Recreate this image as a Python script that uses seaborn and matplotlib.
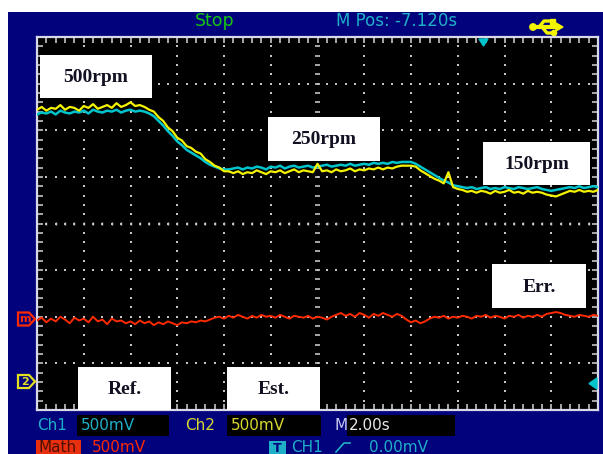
import numpy as np
import pandas as pd
import matplotlib
matplotlib.use("Agg")
import matplotlib.pyplot as plt
from matplotlib.patches import Rectangle, Polygon, Circle
import seaborn as sns

# ---- acquisition settings -------------------------------------------------
SEC_PER_DIV = 2.0      # M 2.00s
VOLT_PER_DIV = 0.5     # 500mV on Ch1, Ch2 and Math
N_HDIV, N_VDIV = 12, 8
DT = 0.2               # sample spacing in seconds

# ---- captured traces (volts, screen centre = 0 V) ---------------------------
ch1_ref = [
    1.17, 1.19, 1.18, 1.20, 1.17, 1.21, 1.19, 1.18, 1.20, 1.19,
    1.21, 1.18, 1.22, 1.20, 1.19, 1.21, 1.20, 1.22, 1.19, 1.21,
    1.22, 1.20, 1.21, 1.20, 1.18, 1.15, 1.10, 1.05, 0.99, 0.94,
    0.88, 0.84, 0.79, 0.76, 0.73, 0.70, 0.66, 0.63, 0.61, 0.59,
    0.58, 0.58, 0.59, 0.60, 0.58, 0.60, 0.59, 0.61, 0.60, 0.58,
    0.61, 0.60, 0.62, 0.59, 0.61, 0.62, 0.60, 0.61, 0.62, 0.60,
    0.61, 0.62, 0.63, 0.61, 0.62, 0.63, 0.62, 0.64, 0.62, 0.63,
    0.64, 0.63, 0.65, 0.64, 0.65, 0.64, 0.66, 0.65, 0.66, 0.66,
    0.66, 0.64, 0.61, 0.58, 0.55, 0.52, 0.49, 0.46, 0.44, 0.41,
    0.40, 0.39, 0.38, 0.39, 0.37, 0.38, 0.39, 0.37, 0.38, 0.37,
    0.39, 0.38, 0.37, 0.39, 0.38, 0.37, 0.38, 0.39, 0.37, 0.36,
    0.35, 0.36, 0.37, 0.38, 0.39, 0.38, 0.40, 0.38, 0.39, 0.40,
    0.39,
]
ch2_est = [
    1.22, 1.25, 1.21, 1.24, 1.23, 1.27, 1.22, 1.25, 1.24, 1.21,
    1.26, 1.24, 1.28, 1.23, 1.25, 1.27, 1.24, 1.29, 1.25, 1.27,
    1.30, 1.26, 1.27, 1.25, 1.22, 1.20, 1.14, 1.10, 1.03, 0.99,
    0.92, 0.89, 0.83, 0.81, 0.77, 0.75, 0.69, 0.66, 0.62, 0.60,
    0.56, 0.56, 0.54, 0.56, 0.53, 0.55, 0.54, 0.57, 0.55, 0.53,
    0.56, 0.55, 0.57, 0.54, 0.56, 0.58, 0.55, 0.57, 0.56, 0.55,
    0.64, 0.56, 0.57, 0.55, 0.58, 0.56, 0.57, 0.59, 0.56, 0.58,
    0.57, 0.59, 0.58, 0.60, 0.58, 0.60, 0.59, 0.61, 0.62, 0.62,
    0.62, 0.61, 0.57, 0.54, 0.51, 0.48, 0.46, 0.43, 0.55, 0.39,
    0.37, 0.36, 0.34, 0.35, 0.33, 0.35, 0.34, 0.32, 0.35, 0.33,
    0.34, 0.36, 0.33, 0.34, 0.32, 0.35, 0.33, 0.34, 0.33, 0.31,
    0.30, 0.29, 0.31, 0.33, 0.35, 0.34, 0.36, 0.34, 0.35, 0.34,
    0.36,
]
math_err = [
    -1.04, -1.01, -1.06, -1.02, -1.05, -1.00, -1.03, -1.07, -1.01, -1.04,
    -1.02, -1.06, -1.00, -1.05, -1.03, -1.08, -1.02, -1.05, -1.04, -1.07,
    -1.05, -1.08, -1.04, -1.07, -1.05, -1.09, -1.06, -1.08, -1.05, -1.07,
    -1.09, -1.06, -1.07, -1.05, -1.06, -1.04, -1.05, -1.03, -1.01, -1.00,
    -1.02, -0.99, -1.01, -0.98, -1.00, -1.02, -0.99, -1.01, -0.98, -1.00,
    -0.99, -1.01, -0.98, -1.00, -1.02, -0.99, -1.00, -1.01, -0.99, -1.02,
    -1.00, -1.01, -1.03, -1.00, -0.98, -0.96, -0.99, -0.97, -1.00, -0.96,
    -0.98, -1.01, -0.97, -0.99, -0.96, -0.98, -1.00, -0.97, -0.99, -1.03,
    -1.06, -1.04, -1.07, -1.05, -1.02, -1.00, -1.01, -0.99, -1.02, -1.00,
    -1.01, -0.99, -1.00, -1.02, -0.99, -1.00, -0.98, -1.01, -0.99, -1.00,
    -1.02, -0.99, -1.00, -0.98, -1.01, -0.99, -1.00, -0.98, -1.00, -0.97,
    -0.96, -0.95, -0.96, -0.98, -0.99, -1.00, -0.98, -0.99, -1.00, -0.98,
    -0.99,
]

speed_labels = ["500rpm", "250rpm", "150rpm"]
trace_labels = ["Ref.", "Est.", "Err."]

t = np.arange(len(ch2_est)) * DT
df = pd.DataFrame({"t": t, "ref": ch1_ref, "est": ch2_est, "err": math_err})

# ---- colours ----------------------------------------------------------------
NAVY = "#02027c"
CYAN = "#00c4cc"
YELLOW = "#f4f400"
RED = "#ff2a00"
GRID = "#c4c4c4"
TXT_CYAN = "#1fb0c8"
TXT_YEL = "#d8d830"

W, H = 603, 454
fig = plt.figure(figsize=(W / 100, H / 100), dpi=100)
fig.patch.set_facecolor("white")


def pixel_axes(z):
    a = fig.add_axes([0, 0, 1, 1], zorder=z)
    a.set_xlim(0, W)
    a.set_ylim(H, 0)
    a.axis("off")
    a.patch.set_alpha(0)
    return a


# ---- instrument body ---------------------------------------------------------
bg = pixel_axes(0)
bg.add_patch(Rectangle((8, 12), W - 8, H - 12, facecolor=NAVY, edgecolor="none"))

scope_font = "DejaVu Sans"
bg.text(195, 21, "Stop", color="#14c414", fontsize=12.5, family=scope_font, va="center")
bg.text(336, 21, "M Pos: -7.120s", color=TXT_CYAN, fontsize=12, family=scope_font, va="center")

# USB symbol
ux, uy = 546, 27
bg.plot([ux - 13, ux + 11], [uy, uy], color=YELLOW, lw=3, solid_capstyle="butt")
bg.add_patch(Polygon([[ux + 10, uy - 4], [ux + 17, uy], [ux + 10, uy + 4]], color=YELLOW))
bg.add_patch(Circle((ux - 13, uy), 3.2, color=YELLOW))
bg.plot([ux - 7, ux - 2, ux + 5], [uy, uy - 6, uy - 6], color=YELLOW, lw=2.4)
bg.add_patch(Rectangle((ux + 4, uy - 8.5), 4.5, 5, color=YELLOW))
bg.plot([ux - 4, ux + 1, ux + 7], [uy, uy + 6, uy + 6], color=YELLOW, lw=2.4)
bg.add_patch(Circle((ux + 8, uy + 6), 2.6, color=YELLOW))

# status line 1
fs = 11
bg.text(37, 426, "Ch1", color=TXT_CYAN, fontsize=fs, family=scope_font, va="center")
bg.add_patch(Rectangle((77, 415), 92, 21, facecolor="black", edgecolor="none"))
bg.text(81, 426, "500mV", color=TXT_CYAN, fontsize=fs, family=scope_font, va="center")
bg.text(185, 426, "Ch2", color=TXT_YEL, fontsize=fs, family=scope_font, va="center")
bg.add_patch(Rectangle((227, 415), 94, 21, facecolor="black", edgecolor="none"))
bg.text(231, 426, "500mV", color=TXT_YEL, fontsize=fs, family=scope_font, va="center")
bg.text(335, 426, "M", color="#c8c8f0", fontsize=fs, family=scope_font, va="center")
bg.add_patch(Rectangle((347, 415), 108, 21, facecolor="black", edgecolor="none"))
bg.text(349, 426, "2.00s", color="#e8e8e8", fontsize=fs, family=scope_font, va="center")

# status line 2 (partly below the bottom edge)
bg.add_patch(Rectangle((36, 440), 45, 16, facecolor="#e83010", edgecolor="none"))
bg.text(38, 448, "Math", color="#501000", fontsize=fs, family=scope_font, va="center")
bg.text(92, 448, "500mV", color=RED, fontsize=fs, family=scope_font, va="center")
bg.add_patch(Rectangle((269, 441), 17, 15, facecolor=TXT_CYAN, edgecolor="none"))
bg.text(277.5, 448, "T", color=NAVY, fontsize=9, family=scope_font, va="center",
        ha="center", weight="bold")
bg.text(291, 448, "CH1", color=TXT_CYAN, fontsize=fs, family=scope_font, va="center")
bg.plot([336, 344, 350], [452, 443, 443], color=TXT_CYAN, lw=1.2)
bg.text(369, 448, "0.00mV", color=TXT_CYAN, fontsize=fs, family=scope_font, va="center")

# ---- screen -----------------------------------------------------------------
L, T_, R, B = 37, 37, 598, 410
ax = fig.add_axes([L / W, 1 - B / H, (R - L) / W, (B - T_) / H], zorder=1)
ax.set_facecolor("black")
t_span = N_HDIV * SEC_PER_DIV
v_half = N_VDIV / 2 * VOLT_PER_DIV
ax.set_xlim(0, t_span)
ax.set_ylim(-v_half, v_half)

minor_t = SEC_PER_DIV / 5
minor_v = VOLT_PER_DIV / 5
ax.set_xticks(np.arange(0, t_span + 1e-9, SEC_PER_DIV))
ax.set_xticks(np.arange(0, t_span + 1e-9, minor_t), minor=True)
ax.set_yticks(np.arange(-v_half, v_half + 1e-9, VOLT_PER_DIV))
ax.set_yticks(np.arange(-v_half, v_half + 1e-9, minor_v), minor=True)
ax.tick_params(which="both", direction="in", top=True, right=True, length=4.5,
               width=1.2, color=GRID, labelbottom=False, labelleft=False)
for s in ax.spines.values():
    s.set_color("#d8d8e8")
    s.set_linewidth(1.6)

# dotted graticule
gx = np.arange(SEC_PER_DIV, t_span - 1e-9, SEC_PER_DIV)
gy = np.arange(-v_half + VOLT_PER_DIV, v_half - 1e-9, VOLT_PER_DIV)
dy = np.arange(-v_half + minor_v, v_half - 1e-9, minor_v)
dx = np.arange(minor_t, t_span - 1e-9, minor_t)
X1, Y1 = np.meshgrid(gx[~np.isclose(gx, t_span / 2)], dy)
X2, Y2 = np.meshgrid(dx, gy)
ax.scatter(X1.ravel(), Y1.ravel(), s=2.2, c=GRID, marker="s", linewidths=0, zorder=1)
ax.scatter(X2.ravel(), Y2.ravel(), s=2.2, c=GRID, marker="s", linewidths=0, zorder=1)

# centre vertical line drawn as short dashes
ax.hlines(dy, t_span / 2 - 0.10, t_span / 2 + 0.10, color=GRID, lw=1.2, zorder=1)
# centre horizontal line: small ticks on top of the dots
ax.vlines(dx, -0.018, 0.018, color=GRID, lw=1.0, zorder=1)

# traces
sns.lineplot(data=df, x="t", y="err", ax=ax, color=RED, lw=1.4, estimator=None, zorder=3)
sns.lineplot(data=df, x="t", y="ref", ax=ax, color=CYAN, lw=1.8, estimator=None, zorder=4)
sns.lineplot(data=df, x="t", y="est", ax=ax, color=YELLOW, lw=1.6, estimator=None, zorder=5)
ax.set_xlabel("")
ax.set_ylabel("")

# ---- overlays: channel markers and annotation boxes -------------------------
ov = pixel_axes(3)


def channel_marker(yc, col, tag):
    pts = [[18, yc - 6.5], [29, yc - 6.5], [35, yc], [29, yc + 6.5], [18, yc + 6.5]]
    ov.add_patch(Polygon(pts, closed=True, facecolor=NAVY, edgecolor=col, lw=1.6))
    ov.text(24.5, yc + 0.5, tag, color=col, fontsize=8, family=scope_font,
            weight="bold", ha="center", va="center")


channel_marker(319, RED, "m")
channel_marker(381.5, "#e0e020", "2")

ov.add_patch(Polygon([[479, 39], [488, 39], [483.5, 46]], color=CYAN))
ov.add_patch(Polygon([[597, 378], [597, 389], [589, 383.5]], color=CYAN))

boxes = [
    (speed_labels[0], 40, 55, 152, 98),
    (speed_labels[1], 268, 117, 380, 161),
    (speed_labels[2], 483, 142, 590, 185),
    (trace_labels[2], 492, 264, 586, 308),
    (trace_labels[0], 78, 367, 171, 410),
    (trace_labels[1], 227, 367, 320, 410),
]
for txt, x0, y0, x1, y1 in boxes:
    ov.add_patch(Rectangle((x0, y0), x1 - x0, y1 - y0, facecolor="white", edgecolor="none"))
    ov.text((x0 + x1) / 2, (y0 + y1) / 2 + 1, txt, fontsize=14, weight="bold",
            family="Liberation Serif", color="#111122", ha="center", va="center")

fig.savefig("out.png", dpi=100, facecolor="white")
